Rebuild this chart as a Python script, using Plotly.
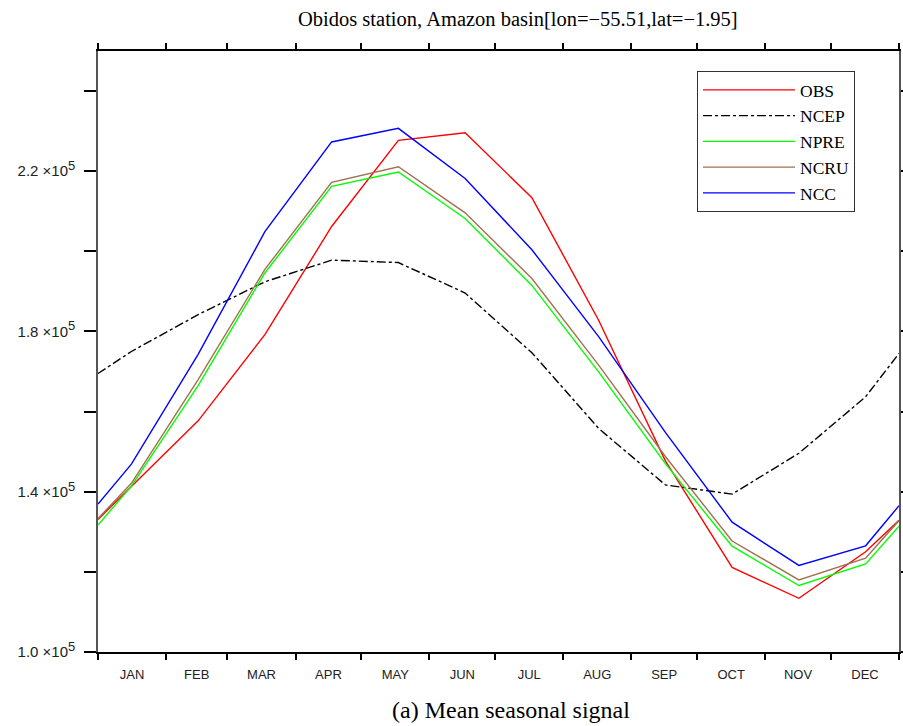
import plotly.graph_objects as go

# ---------------- data (units: 1e5) ----------------
months = ["JAN", "FEB", "MAR", "APR", "MAY", "JUN", "JUL", "AUG", "SEP", "OCT", "NOV", "DEC"]
month_days = [31, 28, 31, 30, 31, 30, 31, 31, 30, 31, 30, 31]

# values at axis start, mid-JAN ... mid-DEC, axis end
obs  = [1.331, 1.413, 1.577, 1.792, 2.062, 2.277, 2.296, 2.134, 1.828, 1.477, 1.211, 1.134, 1.250, 1.329]
ncep = [1.695, 1.750, 1.842, 1.924, 1.978, 1.972, 1.896, 1.747, 1.558, 1.417, 1.394, 1.496, 1.637, 1.745]
npre = [1.317, 1.414, 1.665, 1.946, 2.162, 2.198, 2.082, 1.915, 1.699, 1.470, 1.264, 1.166, 1.220, 1.314]
ncru = [1.333, 1.421, 1.680, 1.955, 2.172, 2.211, 2.096, 1.932, 1.716, 1.488, 1.277, 1.180, 1.234, 1.328]
ncc  = [1.369, 1.469, 1.743, 2.049, 2.273, 2.307, 2.182, 2.004, 1.787, 1.548, 1.324, 1.216, 1.265, 1.365]

series_names = ["OBS", "NCEP", "NPRE", "NCRU", "NCC"]
series_vals = [obs, ncep, npre, ncru, ncc]
series_colors = ["#ff0000", "#000000", "#00ff00", "#a0704f", "#0000ff"]
series_dash = ["solid", "dashdot", "solid", "solid", "solid"]

ytick_labeled = [1.0, 1.4, 1.8, 2.2]
ytick_minor = [1.2, 1.6, 2.0, 2.4]

title_text = "Obidos station, Amazon basin[lon=\u221255.51,lat=\u22121.95]"
caption_text = "(a) Mean seasonal signal"

# ---------------- derived positions ----------------
x_pts = [0.0] + [i + 0.5 for i in range(12)] + [12.0]
cum = [0]
for d in month_days:
    cum.append(cum[-1] + d)
month_starts = [c * 12.0 / 365.0 for c in cum]
month_mids = [(month_starts[i] + month_starts[i + 1]) / 2 for i in range(12)]

ytext = [f"{v:.1f} \u00d710<sup><span style='font-size:13px'>5</span></sup>" for v in ytick_labeled]

fig = go.Figure()
for name, vals, col, dash in zip(series_names, series_vals, series_colors, series_dash):
    fig.add_trace(go.Scatter(
        x=x_pts, y=[v * 1e5 for v in vals], mode="lines", name=name,
        line=dict(color=col, width=1.4, dash=dash),
    ))

fig.update_layout(
    width=903, height=726,
    margin=dict(l=98, r=4, t=51, b=74),
    paper_bgcolor="white", plot_bgcolor="white",
    showlegend=True,
    legend=dict(
        x=(697 - 98) / 801, y=(652 - 71) / 601, xanchor="left", yanchor="top",
        bordercolor="#333333", borderwidth=1, bgcolor="white",
        font=dict(family="Liberation Serif", size=17.5, color="black"),
        itemwidth=92, tracegroupgap=0,
    ),
)

fig.update_xaxes(
    range=[0, 12], showgrid=False, zeroline=False, automargin=False,
    showline=True, linecolor="black", linewidth=1.5, mirror="ticks",
    tickmode="array", tickvals=month_mids, ticktext=months, ticks="",
    ticklabelstandoff=10,
    tickfont=dict(family="Liberation Sans", size=13, color="#222222"),
    minor=dict(tickmode="array", tickvals=month_starts, ticks="outside",
               ticklen=6, tickwidth=1.5, tickcolor="black"),
)
fig.update_yaxes(
    range=[1.0e5, 2.5e5], showgrid=False, zeroline=False, automargin=False,
    showline=True, linecolor="#555555", linewidth=1.5, mirror="ticks",
    tickmode="array", tickvals=[v * 1e5 for v in ytick_labeled], ticktext=ytext,
    ticks="outside", ticklen=12, tickwidth=1.5, tickcolor="black",
    ticklabelstandoff=6,
    tickfont=dict(family="Liberation Sans", size=15, color="#222222"),
    minor=dict(tickmode="array", tickvals=[v * 1e5 for v in ytick_minor],
               ticks="outside", ticklen=12, tickwidth=1.5, tickcolor="black"),
)

fig.add_annotation(
    text=title_text, xref="paper", yref="paper",
    x=(518 - 98) / 801, y=1 + (51 - 19) / 601, xanchor="center", yanchor="middle",
    showarrow=False, font=dict(family="Liberation Serif", size=20.5, color="black"),
)
fig.add_annotation(
    text=caption_text, xref="paper", yref="paper",
    x=(511 - 98) / 801, y=-(710 - 652) / 601, xanchor="center", yanchor="middle",
    showarrow=False, font=dict(family="Liberation Serif", size=24, color="black"),
)

fig.write_html("out.html")
